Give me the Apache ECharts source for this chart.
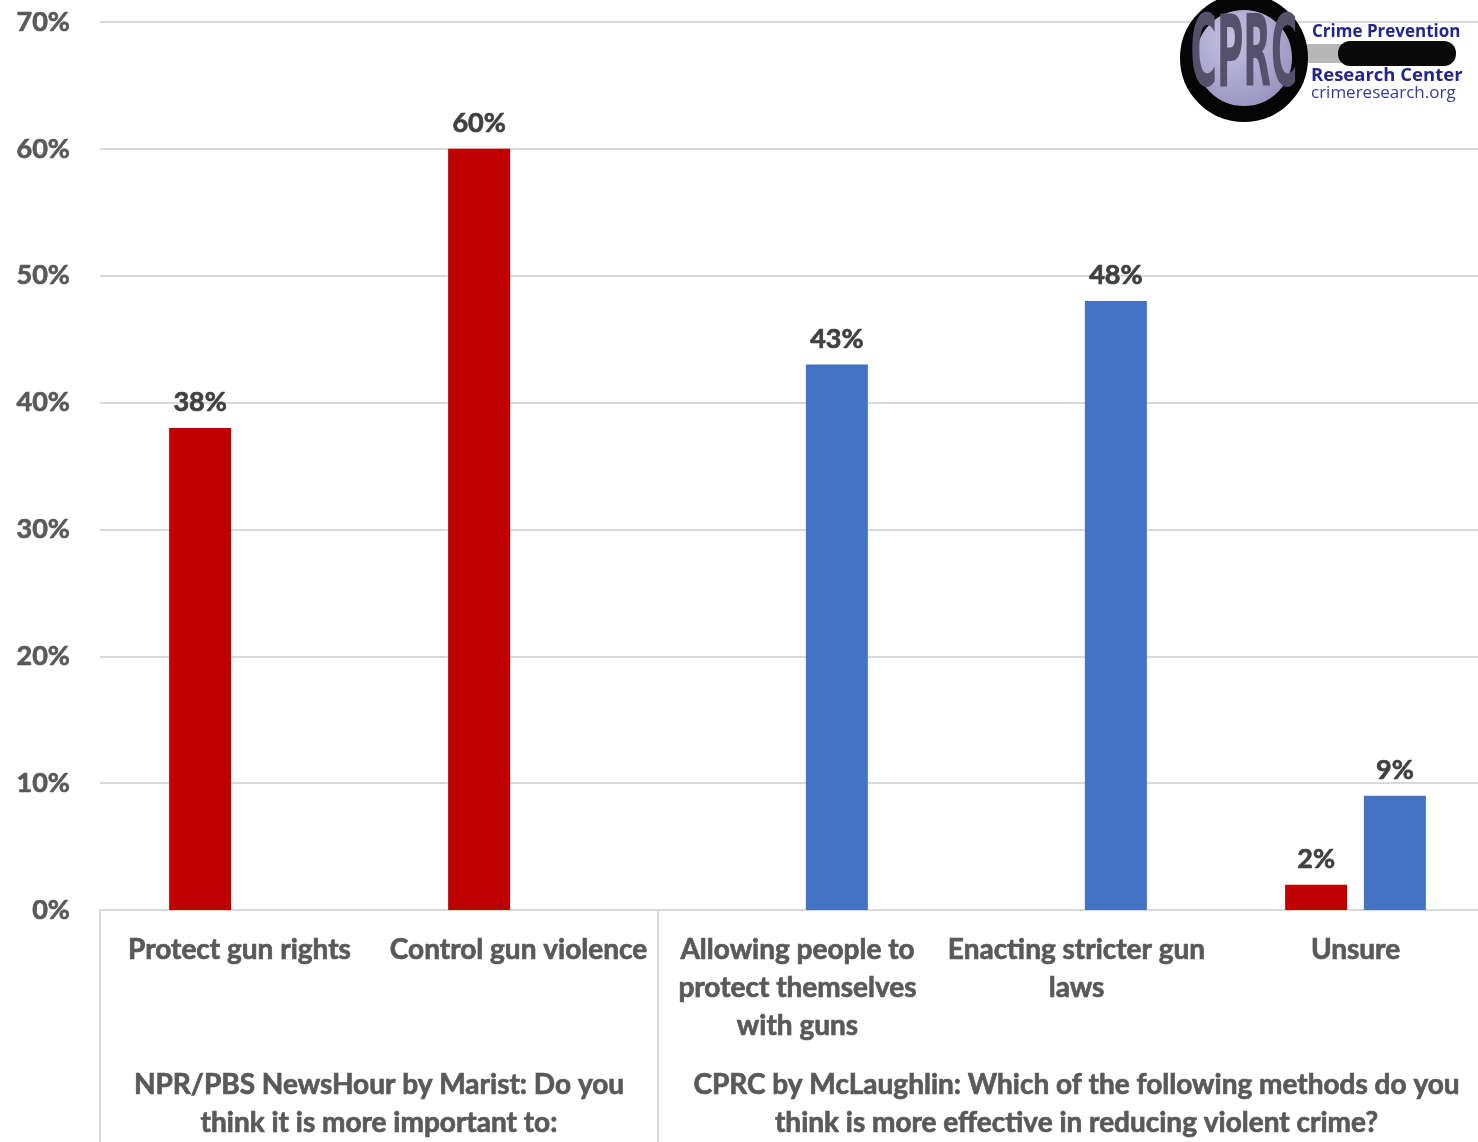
<!DOCTYPE html>
<html>
<head>
<meta charset="utf-8">
<script src="https://cdn.jsdelivr.net/npm/echarts@6/dist/echarts.min.js"></script>
<style>html,body{margin:0;padding:0;background:#fff}#c{width:1478px;height:1142px}</style>
</head>
<body>
<div id="c"></div>
<script>
const categories = ['Protect gun rights', 'Control gun violence', 'Allowing people to\nprotect themselves\nwith guns', 'Enacting stricter gun\nlaws', 'Unsure'];
const nprValues = [38, 60, null, null, 2];
const cprcValues = [null, null, 43, 48, 9];
const groupLabels = ['NPR/PBS NewsHour by Marist: Do you\nthink it is more important to:', 'CPRC by McLaughlin: Which of the following methods do you\nthink is more effective in reducing violent crime?'];
const groupCenters = [1, 3.5];
const groupBoundaries = [0, 2];
const yTicks = [0, 10, 20, 30, 40, 50, 60, 70];

const FONT = 'Lato, "Open Sans", sans-serif';
const grey = '#595959';
const boldText = { fontFamily: FONT, fontWeight: 'bold', textBorderWidth: 0.7 };
const chart = echarts.init(document.getElementById('c'));
chart.setOption({
  animation: false,
  backgroundColor: '#fff',
  grid: { left: 100, width: 1395, top: 22, bottom: 232, containLabel: false, outerBoundsMode: 'none' },
  xAxis: [{
    type: 'category',
    data: categories,
    axisLine: { show: true, lineStyle: { color: '#d9d9d9', width: 2 } },
    axisTick: {
      show: true, length: 235,
      interval: (i) => groupBoundaries.indexOf(i) >= 0,
      lineStyle: { color: '#d9d9d9', width: 2 }
    },
    axisLabel: Object.assign({ interval: 0, margin: 21, color: grey, textBorderColor: grey, fontSize: 28, lineHeight: 38 }, boldText)
  }, {
    type: 'value', min: 0, max: 5, interval: 0.5, position: 'bottom',
    axisLine: { show: false }, axisTick: { show: false }, splitLine: { show: false },
    axisLabel: Object.assign({
      margin: 156, color: grey, textBorderColor: grey, fontSize: 28, lineHeight: 38,
      formatter: (v) => { const k = groupCenters.indexOf(v); return k >= 0 ? groupLabels[k] : ''; }
    }, boldText)
  }],
  yAxis: {
    type: 'value', min: yTicks[0], max: yTicks[yTicks.length - 1], interval: 10,
    axisLine: { show: false }, axisTick: { show: false },
    splitLine: { lineStyle: { color: '#d9d9d9', width: 2 } },
    axisLabel: Object.assign({ formatter: '{value}%', margin: 30, color: grey, textBorderColor: grey, fontSize: 27 }, boldText)
  },
  series: [{
    name: 'NPR/PBS', type: 'bar', data: nprValues, barWidth: 62, barGap: '27%',
    itemStyle: { color: '#C00000' },
    label: Object.assign({ show: true, position: 'top', distance: 12, formatter: '{c}%', color: '#404040', textBorderColor: '#404040', fontSize: 27 }, boldText)
  }, {
    name: 'CPRC', type: 'bar', data: cprcValues, barWidth: 62, barGap: '27%',
    itemStyle: { color: '#4472C4' },
    label: Object.assign({ show: true, position: 'top', distance: 12, formatter: '{c}%', color: '#404040', textBorderColor: '#404040', fontSize: 27 }, boldText)
  }],
  graphic: [
    { type: 'rect', shape: { x: 1300, y: 44, width: 45, height: 19 }, style: { fill: '#b8b8b8' }, z: 10 },
    { type: 'rect', shape: { x: 1338, y: 41, width: 118, height: 25, r: 12 }, style: { fill: '#0a0a0a' }, z: 11 },
    { type: 'circle', shape: { cx: 1244, cy: 58, r: 56 }, style: { fill: new echarts.graphic.RadialGradient(0.4, 0.35, 0.8, [{ offset: 0, color: '#c4c0e0' }, { offset: 1, color: '#8782b2' }]), stroke: '#050505', lineWidth: 16 }, z: 12 },
    { type: 'text', x: 1244, y: 60, scaleX: 0.36, z: 13, style: { text: 'CPRC', fill: '#55506b', font: 'bold 100px "DejaVu Sans"', align: 'center', verticalAlign: 'middle' } },
    { type: 'text', x: 1312, y: 32, z: 13, style: { text: 'Crime Prevention', fill: '#25258a', font: 'bold 17px "Open Sans"', verticalAlign: 'middle' } },
    { type: 'text', x: 1311, y: 76, z: 13, style: { text: 'Research Center', fill: '#25258a', font: 'bold 18.5px "Open Sans"', verticalAlign: 'middle' } },
    { type: 'text', x: 1311, y: 93, z: 13, style: { text: 'crimeresearch.org', fill: '#3a3a96', font: '17px "Open Sans"', verticalAlign: 'middle' } }
  ]
});
</script>
</body>
</html>
